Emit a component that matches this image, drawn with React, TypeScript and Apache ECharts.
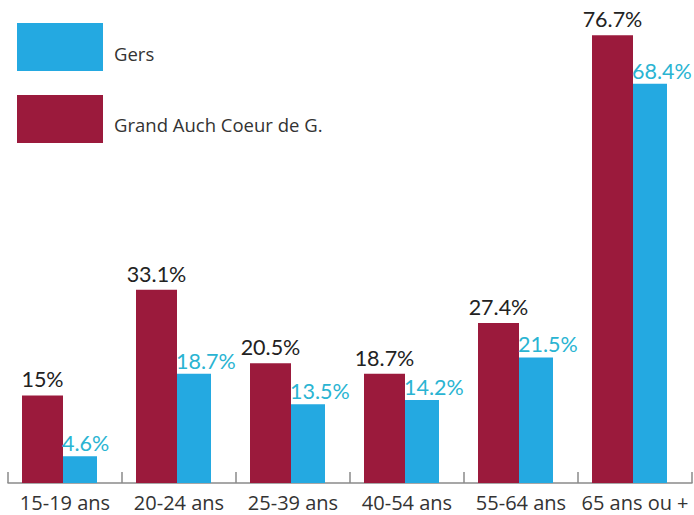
import React, { useEffect, useRef } from "react";
import * as echarts from "echarts";

const categories = ["15-19 ans", "20-24 ans", "25-39 ans", "40-54 ans", "55-64 ans", "65 ans ou +"];
const grandAuch = [15, 33.1, 20.5, 18.7, 27.4, 76.7];
const gers = [4.6, 18.7, 13.5, 14.2, 21.5, 68.4];
const spacer = [0, 0, 0, 0, 0, 0];
const legendNames = ["Gers", "Grand Auch Coeur de G."];

const MAROON = "#9b1a3c";
const BLUE = "#24a9e1";
const BLUE_TEXT = "#2ab4d2";

export default function App() {
  const ref = useRef<HTMLDivElement>(null);
  useEffect(() => {
    if (!ref.current) return;
    const chart = echarts.init(ref.current, null, { renderer: "svg" });
    const legendColors = [BLUE, MAROON];
    const graphic: any[] = [];
    legendNames.forEach((name, i) => {
      graphic.push({
        type: "rect",
        left: 17,
        top: 23 + i * 72,
        shape: { width: 86, height: 48 },
        style: { fill: legendColors[i] },
      });
      graphic.push({
        type: "text",
        x: 114,
        y: 53 + i * 71,
        style: {
          text: name,
          fontFamily: "Open Sans",
          fontSize: 18.5,
          fill: "#333",
          verticalAlign: "middle",
          align: "left",
        },
      });
    });
    chart.setOption({
      animation: false,
      backgroundColor: "#ffffff",
      grid: { left: 8, right: 2, top: 16, bottom: 32 },
      graphic,
      xAxis: {
        type: "category",
        data: categories,
        axisLine: { lineStyle: { color: "#8a8a8a", width: 1.5 } },
        axisTick: { show: true, inside: true, interval: 0, length: 11, lineStyle: { color: "#8a8a8a", width: 1.5 } },
        axisLabel: { interval: 0, fontFamily: "Open Sans", fontSize: 20, lineHeight: 16, color: "#333", margin: 11 },
      },
      yAxis: { type: "value", min: 0, max: 80, show: false },
      series: [
        {
          name: "Grand Auch Coeur de G.",
          type: "bar",
          data: grandAuch,
          barWidth: 41,
          barGap: "0%",
          itemStyle: { color: MAROON },
          label: {
            show: true,
            position: "top",
            distance: 5,
            color: "#222",
            fontFamily: "Lato",
            fontSize: 21.5,
            formatter: (p: any) => `${p.value}%`,
          },
        },
        {
          name: "Gers",
          type: "bar",
          data: gers,
          barWidth: 34,
          barGap: "0%",
          itemStyle: { color: BLUE },
          label: {
            show: true,
            position: [-1, -2],
            align: "left",
            verticalAlign: "bottom",
            color: BLUE_TEXT,
            fontFamily: "Lato",
            fontSize: 21.5,
            formatter: (p: any) => `${p.value}%`,
          },
        },
        {
          name: "spacer",
          type: "bar",
          data: spacer,
          barWidth: 11,
          barGap: "0%",
          silent: true,
          itemStyle: { color: "rgba(0,0,0,0)" },
        },
      ],
    });
    return () => chart.dispose();
  }, []);
  return <div ref={ref} style={{ width: 694, height: 515, position: "absolute", left: 0, top: 0 }} />;
}
